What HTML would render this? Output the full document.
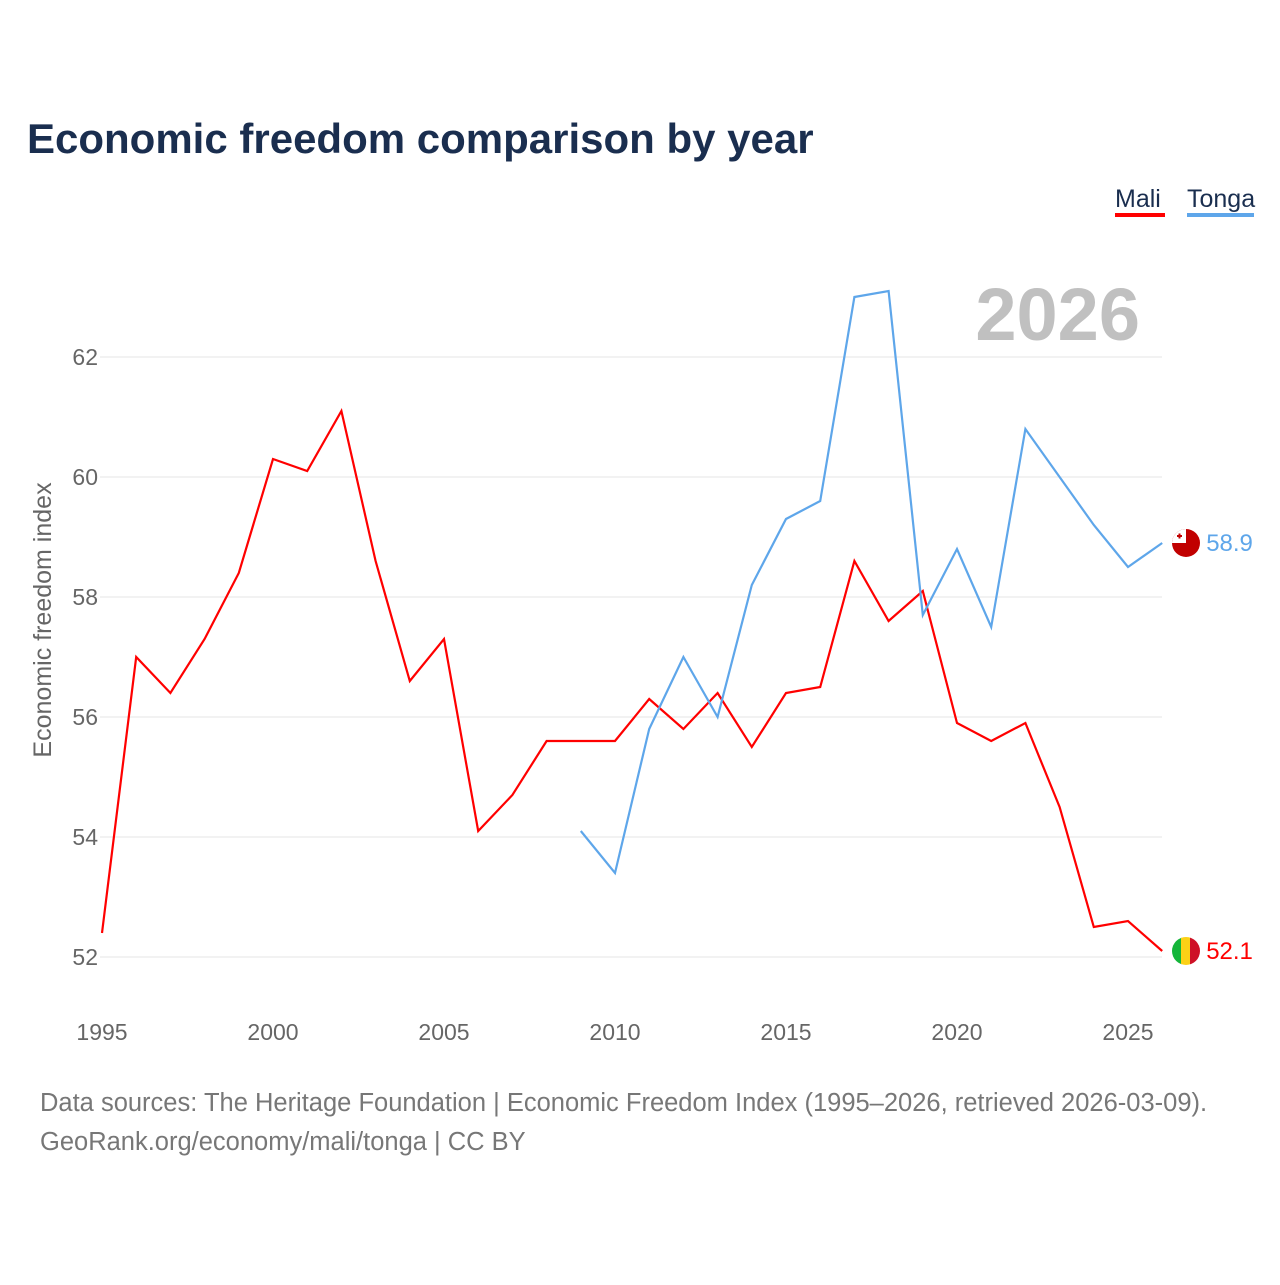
<!DOCTYPE html>
<html><head><meta charset="utf-8"><style>
body{margin:0;background:#fff;font-family:"Liberation Sans",sans-serif;}
</style></head><body>
<svg width="1280" height="1280" xmlns="http://www.w3.org/2000/svg" id="svg">
<defs>
<clipPath id="cm"><circle cx="1186" cy="951" r="14"/></clipPath>
<clipPath id="ct"><circle cx="1186" cy="543" r="14"/></clipPath>
</defs>
<text x="27" y="153" font-size="42" font-weight="bold" fill="#1a2e4f">Economic freedom comparison by year</text>
<g><text x="1115" y="207" font-size="25" fill="#1a2e4f">Mali</text><rect x="1115" y="213" width="50" height="4" fill="#ff0000"/></g>
<g><text x="1187" y="207" font-size="25" fill="#1a2e4f">Tonga</text><rect x="1187" y="213" width="67" height="4" fill="#5ea6ea"/></g>
<text x="1140" y="340" font-size="74" font-weight="bold" fill="#c0c0c0" text-anchor="end">2026</text>
<g id="grid"></g><g id="xt"></g><g id="lines"></g>
<g clip-path="url(#cm)">
<rect x="1172" y="937" width="10" height="28" fill="#14b53a"/><rect x="1181" y="937" width="10" height="28" fill="#fcd116"/><rect x="1190" y="937" width="10" height="28" fill="#ce1126"/></g>
<g clip-path="url(#ct)">
<rect x="1172" y="529" width="28" height="28" fill="#c10000"/><rect x="1172" y="529" width="14" height="14" fill="#fff"/>
<rect x="1177" y="535" width="5" height="2" fill="#c10000"/><rect x="1178.5" y="533.5" width="2" height="5" fill="#c10000"/></g>
<text transform="translate(51,620) rotate(-90)" font-size="25" fill="#666" text-anchor="middle">Economic freedom index</text>
<text x="40" y="1111" font-size="25.5" fill="#777">Data sources: The Heritage Foundation | Economic Freedom Index (1995–2026, retrieved 2026-03-09).</text>
<text x="40" y="1150" font-size="25.5" fill="#777">GeoRank.org/economy/mali/tonga | CC BY</text>
</svg>
<script>
const maliYears=[1995,1996,1997,1998,1999,2000,2001,2002,2003,2004,2005,2006,2007,2008,2009,2010,2011,2012,2013,2014,2015,2016,2017,2018,2019,2020,2021,2022,2023,2024,2025,2026];
const maliValues=[52.4,57.0,56.4,57.3,58.4,60.3,60.1,61.1,58.6,56.6,57.3,54.1,54.7,55.6,55.6,55.6,56.3,55.8,56.4,55.5,56.4,56.5,58.6,57.6,58.1,55.9,55.6,55.9,54.5,52.5,52.6,52.1];
const tongaYears=[2009,2010,2011,2012,2013,2014,2015,2016,2017,2018,2019,2020,2021,2022,2023,2024,2025,2026];
const tongaValues=[54.1,53.4,55.8,57.0,56.0,58.2,59.3,59.6,63.0,63.1,57.7,58.8,57.5,60.8,60.0,59.2,58.5,58.9];
const yTicks=[52,54,56,58,60,62];
const xTicks=[1995,2000,2005,2010,2015,2020,2025];
const NS="http://www.w3.org/2000/svg";
const X=y=>102+(y-1995)*(1026/30);
const Y=v=>957-(v-52)*60;
function mk(t,a,p){const e=document.createElementNS(NS,t);for(const k in a)e.setAttribute(k,a[k]);p.appendChild(e);return e;}
const grid=document.getElementById('grid'),xt=document.getElementById('xt'),lines=document.getElementById('lines');
yTicks.forEach(v=>{
 const l=mk('line',{x1:100,x2:1162,y1:Y(v),y2:Y(v),stroke:'#e6e6e6','stroke-width':1},grid);
 
 
 const t=mk('text',{x:98,y:Y(v)+8,'font-size':23,fill:'#666','text-anchor':'end'},grid);t.textContent=v;
 
 
});
xTicks.forEach(y=>{
 const t=mk('text',{x:X(y),y:1040,'font-size':23,fill:'#666','text-anchor':'middle'},xt);t.textContent=y;
 
 
});
function series(ys,vs,col,name){
 const p=mk('polyline',{points:ys.map((y,i)=>X(y)+','+Y(vs[i])).join(' '),fill:'none',stroke:col,'stroke-width':2.2},lines);
 
 
 const ly=ys[ys.length-1],lv=vs[vs.length-1];
 const t=mk('text',{x:X(ly)+44,y:Y(lv)+8,'font-size':24,fill:col},lines);t.textContent=lv.toFixed(1);
 
 
}
series(maliYears,maliValues,'#ff0000','mali');
series(tongaYears,tongaValues,'#5ea6ea','tonga');
</script>
</body></html>
